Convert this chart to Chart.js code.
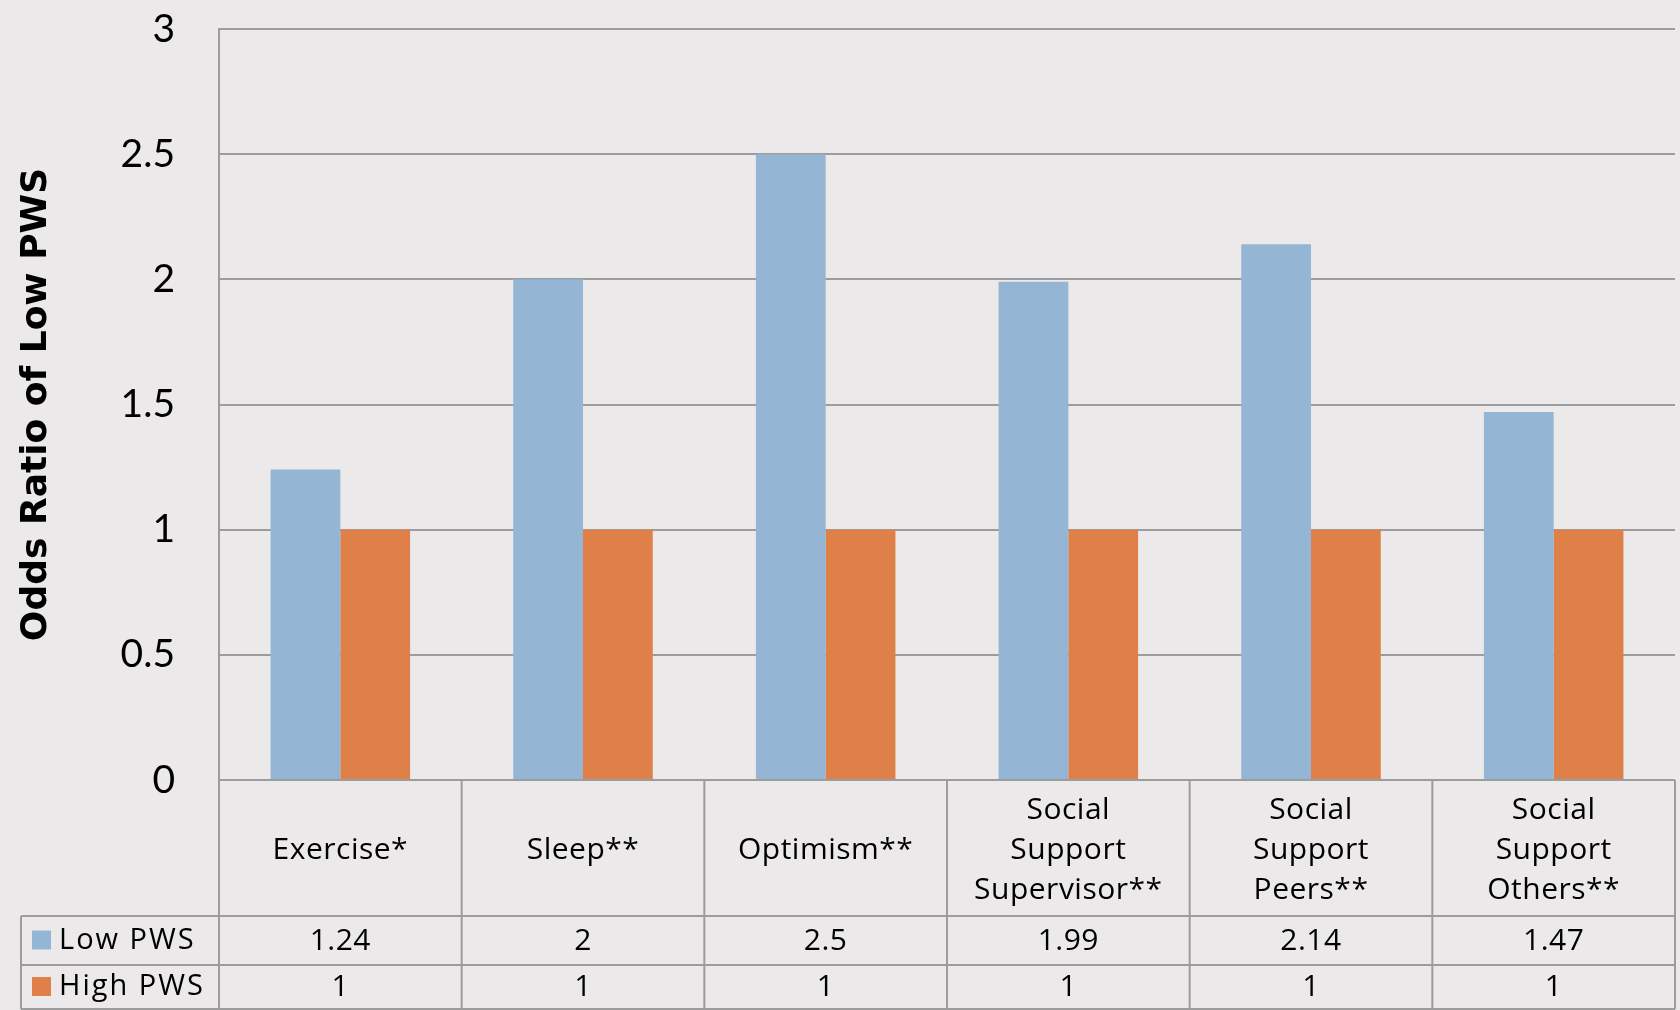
<!DOCTYPE html>
<html lang="en">
<head>
    <meta charset="UTF-8">
    <title>Odds Ratio of Low PWS</title>
    <style>
        body { margin: 0; background-color: #EBE9EA; }
        canvas { display: block; }
    </style>
</head>
<body>
    <canvas id="chart" width="1680" height="1010"></canvas>
    <script src="https://cdn.jsdelivr.net/npm/chart.js"></script>
    <script>
        const categories = [['Exercise*'], ['Sleep**'], ['Optimism**'], ['Social', 'Support', 'Supervisor**'], ['Social', 'Support', 'Peers**'], ['Social', 'Support', 'Others**']];
        const seriesNames = ['Low PWS', 'High PWS'];
        const lowPWS = [1.24, 2, 2.5, 1.99, 2.14, 1.47];
        const highPWS = [1, 1, 1, 1, 1, 1];
        const lowLabels = ['1.24', '2', '2.5', '1.99', '2.14', '1.47'];
        const highLabels = ['1', '1', '1', '1', '1', '1'];
        const yTicks = [0, 0.5, 1, 1.5, 2, 2.5, 3];

        const colors = ['#94B5D3', '#DE8048'];
        const lineColor = '#9c9c9c';
        const fontFamily = 'Lato, "Open Sans", sans-serif';
        const tableFont = '"Open Sans", Lato, sans-serif';

        // table under the plot + the rotated axis title
        const tablePlugin = {
            id: 'tablePlugin',
            beforeDraw(chart) {
                const c = chart.ctx;
                c.save();
                c.fillStyle = '#EBE9EA';
                c.fillRect(0, 0, chart.width, chart.height);
                c.restore();
            },
            afterDraw(chart) {
                const c = chart.ctx;
                const area = chart.chartArea;
                const x = chart.scales.x;
                const catRowBottom = 916;
                const lowRowBottom = 965;
                const highRowBottom = 1009;
                const legendLeft = 21;
                const half = (x.getPixelForValue(1) - x.getPixelForValue(0)) / 2;

                c.save();
                c.strokeStyle = lineColor;
                c.lineWidth = 2;
                c.beginPath();
                // horizontal lines
                c.moveTo(area.left, area.bottom); c.lineTo(area.right, area.bottom);
                [catRowBottom, lowRowBottom, highRowBottom].forEach(y => {
                    c.moveTo(legendLeft, y); c.lineTo(area.right, y);
                });
                // vertical lines
                c.moveTo(area.left, area.bottom); c.lineTo(area.left, highRowBottom);
                c.moveTo(legendLeft, catRowBottom); c.lineTo(legendLeft, highRowBottom);
                for (let i = 0; i < categories.length; i++) {
                    const xr = x.getPixelForValue(i) + half;
                    c.moveTo(xr, area.bottom); c.lineTo(xr, highRowBottom);
                }
                c.stroke();

                c.fillStyle = '#000';
                c.font = '30px ' + tableFont;
                c.letterSpacing = '0.5px';
                c.textAlign = 'center';
                c.textBaseline = 'middle';
                const catMid = (area.bottom + catRowBottom) / 2;
                const lowMid = (catRowBottom + lowRowBottom) / 2;
                const highMid = (lowRowBottom + highRowBottom) / 2;
                const lineH = 40;
                categories.forEach((lines, i) => {
                    const cx = x.getPixelForValue(i);
                    const y0 = catMid - (lines.length - 1) * lineH / 2 + 2;
                    lines.forEach((t, j) => c.fillText(t, cx, y0 + j * lineH));
                    c.fillText(lowLabels[i], cx, lowMid + 1);
                    c.fillText(highLabels[i], cx, highMid);
                });

                // legend column
                c.textAlign = 'left';
                c.font = '29px ' + tableFont;
                c.letterSpacing = '2px';
                [lowMid, highMid].forEach((my, k) => {
                    c.fillStyle = colors[k];
                    c.fillRect(32, my - 10, 19, 19);
                    c.fillStyle = '#000';
                    c.fillText(seriesNames[k], 59, my);
                });

                // y axis title
                c.letterSpacing = '0px';
                c.translate(37, (area.top + area.bottom) / 2);
                c.rotate(-Math.PI / 2);
                c.textAlign = 'center';
                c.font = 'bold 36px "DejaVu Sans", sans-serif';
                c.fillText('Odds Ratio of Low PWS', 0, 0);
                c.restore();
            }
        };

        new Chart(document.getElementById('chart'), {
            type: 'bar',
            data: {
                labels: categories,
                datasets: [
                    { label: seriesNames[0], data: lowPWS, backgroundColor: colors[0] },
                    { label: seriesNames[1], data: highPWS, backgroundColor: colors[1] }
                ]
            },
            options: {
                responsive: false,
                animation: false,
                devicePixelRatio: 1,
                layout: { padding: { top: 29, right: 5, bottom: 230, left: 0 } },
                datasets: { bar: { categoryPercentage: 0.575, barPercentage: 1 } },
                plugins: { legend: { display: false }, tooltip: { enabled: false } },
                scales: {
                    x: { display: false },
                    y: {
                        min: 0,
                        max: 3,
                        afterFit: s => { s.width = 219; s.paddingTop = 0; s.paddingBottom = 0; },
                        afterBuildTicks: s => { s.ticks = yTicks.map(v => ({ value: v })); },
                        ticks: { font: { size: 39, family: fontFamily }, color: '#000', padding: 44, callback: v => String(v) },
                        grid: { color: lineColor, lineWidth: 2, drawTicks: false },
                        border: { display: true, color: lineColor, width: 2 }
                    }
                }
            },
            plugins: [tablePlugin]
        });
    </script>
</body>
</html>
